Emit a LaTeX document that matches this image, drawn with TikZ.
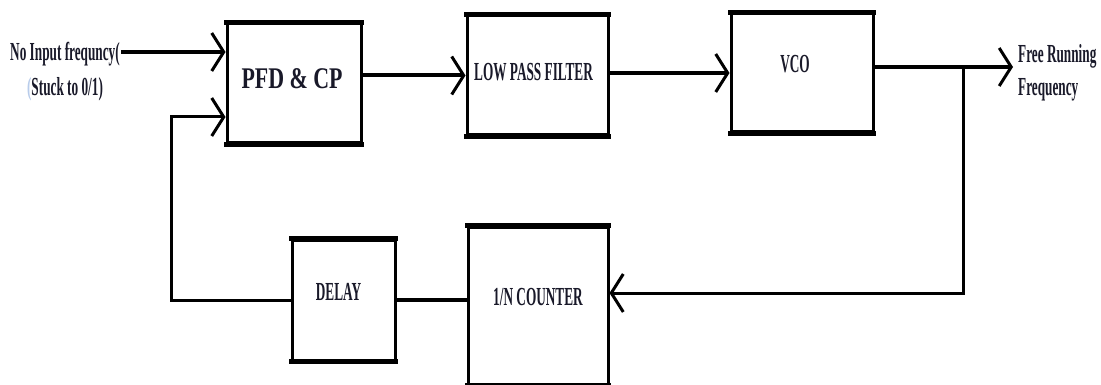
\documentclass[tikz,border=0pt]{standalone}
\usepackage{fontspec}
\setmainfont{Liberation Serif}
\newfontfamily\condfont[FakeStretch=0.51]{Liberation Serif}
\newfontfamily\pfdfont[FakeStretch=0.73]{Liberation Serif}
\usetikzlibrary{arrows.meta}
\definecolor{txt}{rgb}{0.1,0.1,0.16}
\definecolor{faint}{rgb}{0.72,0.8,0.92}
\begin{document}
\begin{tikzpicture}[x=1pt,y=-1pt,
  blk/.style={draw=black, line width=3pt, inner sep=0pt,
    append after command={
      (\tikzlastnode.north west) edge[line width=5pt, shorten <=-1.5pt, shorten >=-1.5pt] (\tikzlastnode.north east)
      (\tikzlastnode.south west) edge[line width=5pt, shorten <=-1.5pt, shorten >=-1.5pt] (\tikzlastnode.south east)}},
  lbl/.style={text=txt, font=\condfont\bfseries\fontsize{26}{33}\selectfont, inner sep=0pt},
  pfdlbl/.style={text=txt, font=\pfdfont\bfseries\fontsize{30}{33}\selectfont, inner sep=0pt},
  wire/.style={line width=4pt},
  fb/.style={line width=3pt},
  >={Straight Barb[length=12pt,width=38pt,line width=3pt]}]
\fill[white] (0,0) rectangle (1101,385);
\useasboundingbox (0,0) rectangle (1101,385);

% blocks
\node[blk, minimum width=134pt, minimum height=119pt,
  label={[pfdlbl, xshift=-2pt, yshift=4.5pt]center:PFD \& CP}] (pfd) at (294,83.5) {};
\node[blk, minimum width=141pt, minimum height=119pt,
  label={[lbl, xshift=-4pt, yshift=3pt]center:LOW PASS FILTER}] (lpf) at (537.5,75.5) {};
\node[blk, minimum width=142pt, minimum height=118pt,
  label={[lbl, xshift=-7pt, yshift=8.5pt]center:VCO}] (vco) at (802,73) {};
\node[blk, minimum width=103pt, minimum height=120pt,
  label={[lbl, xshift=-5pt, yshift=8pt]center:DELAY}] (delay) at (343.5,300) {};
\node[blk, minimum width=140pt, minimum height=157pt,
  label={[lbl, yshift=8.5pt]center:1/N COUNTER}] (counter) at (538,305.5) {};

% texts
\node[lbl, font=\condfont\bfseries\fontsize{26}{35}\selectfont, anchor=north, align=center] (inlbl) at (65,42)
  {No Input frequncy(\\{\color{faint}(}Stuck to 0/1)};
\node[lbl, anchor=north west, align=left] (outlbl) at (1018,44) {Free Running\\Frequency};

% coordinates
\coordinate (in) at (121,52);
\coordinate (fbc) at (171,117);
\coordinate (br) at (963,67);
\coordinate (brd) at (963,293);
\coordinate (out) at (1013,67);

% connectors
\draw[wire,->] (in) -- (in -| pfd.west);
\draw[fb,->] (delay.west) -| (fbc) -- (fbc -| pfd.west);
\draw[wire,->] (pfd.east |- lpf.west) -- (lpf.west);
\draw[wire,->] (lpf.east |- vco.west) -- (vco.west);
\draw[wire,->] (vco.east |- out) -- (out);
\draw[fb,->] (br) -- (brd) -- (brd -| counter.east);
\draw[wire] (delay.east) -- (delay.east -| counter.west);
\end{tikzpicture}
\end{document}
